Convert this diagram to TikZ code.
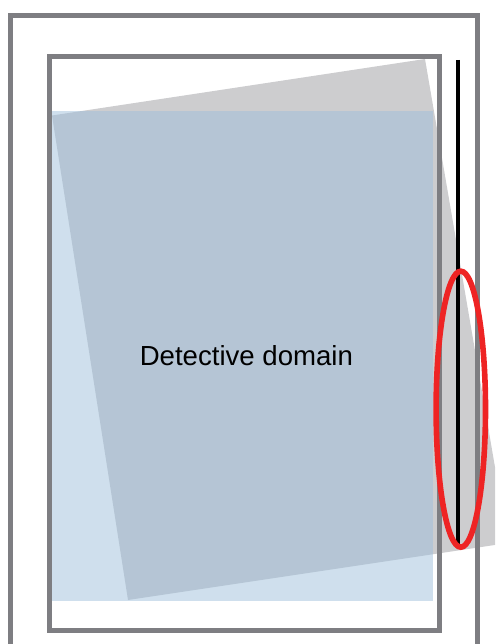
\documentclass[tikz,border=0pt]{standalone}
\usepackage{fontspec}
\setmainfont{Liberation Sans}
\definecolor{framegray}{RGB}{126,126,130}
\definecolor{tiltgray}{RGB}{205,205,207}
\definecolor{domainblue}{RGB}{159,191,219}
\definecolor{markred}{RGB}{238,36,36}
\tikzset{
  grayframe/.style={draw=framegray, line width=5pt},
  tiltfill/.style={fill=tiltgray},
  domainfill/.style={fill=domainblue, fill opacity=0.5},
  blackedge/.style={draw=black, line width=4pt},
  redmark/.style={draw=markred, line width=5.6pt},
}
\begin{document}
\begin{tikzpicture}[x=1pt,y=-1pt]
\useasboundingbox (0,0) rectangle (495,644);
\clip (0,0) rectangle (495,644);
% tilted gray region
\fill[tiltfill] (52,115.5) -- (425,59) -- (508,543) -- (128,600) -- cycle;
% blue domain
\fill[domainfill] (50,111) rectangle (432.5,601);
% frames
\draw[grayframe] (49.5,56.5) rectangle (439,630.5);
\draw[grayframe] (10.5,660) -- (10.5,15.5) -- (477.5,15.5) -- (477.5,660);
% black line
\coordinate (ltop) at (458,60);
\coordinate (lbot) at (458,545);
\draw[blackedge] (ltop) -- (lbot);
% red ellipse
\draw[redmark] (460.8,409.2) ellipse [x radius=24.7, y radius=138];
% label
\node[anchor=base, inner sep=0pt, font=\fontsize{27.6}{33}\selectfont] (label) at (246.4,365) {Detective domain};
\end{tikzpicture}
\end{document}
